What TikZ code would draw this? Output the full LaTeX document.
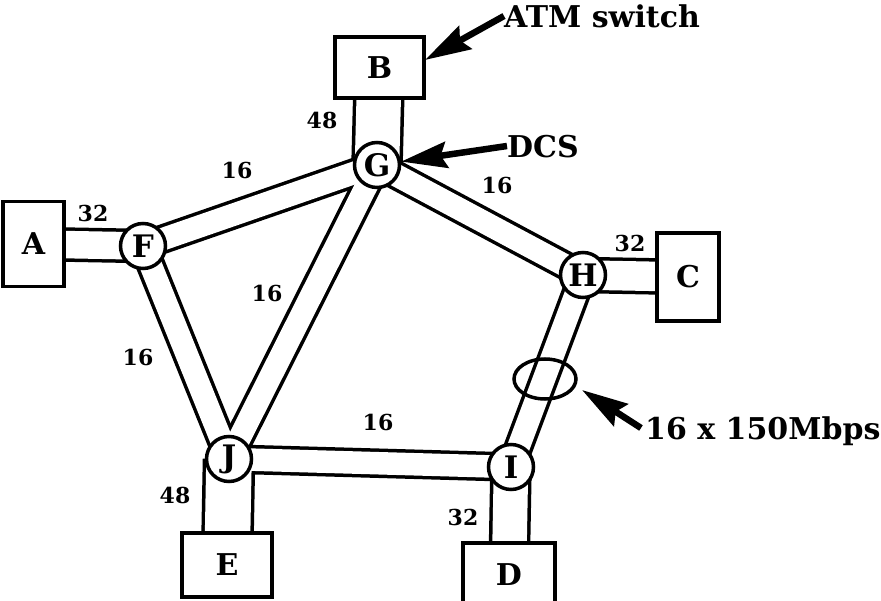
\documentclass[tikz,border=0pt]{standalone}
\usepackage{fontspec}
\setmainfont{DejaVu Serif}
\usetikzlibrary{arrows.meta,backgrounds,shapes.geometric}
\begin{document}
\begin{tikzpicture}[x=1pt,y=-1pt,
  switchbox/.style={draw, line width=3.5pt, fill=white, inner sep=0pt,
    font=\bfseries\fontsize{30}{30}\selectfont},
  crossconn/.style={circle, draw, line width=3.5pt, fill=white, minimum size=45pt,
    inner sep=0pt, font=\bfseries\fontsize{31}{31}\selectfont},
  num/.style={inner sep=0pt, font=\bfseries\fontsize{22}{22}\selectfont},
  callout/.style={inner sep=0pt, anchor=west, text depth=0pt,
    font=\bfseries\fontsize{30}{30}\selectfont},
  pointer/.style={line width=6.5pt, -{Stealth[length=46pt,width=26pt,inset=6pt]}},
]
\useasboundingbox (0,0) rectangle (881,601);
\clip (0,0) rectangle (881,601);

% ATM switches
\node[switchbox, minimum width=61pt, minimum height=85pt] (A) at (33.5,244) {A};
\node[switchbox, minimum width=89pt, minimum height=61pt] (B) at (379.5,67.5) {B};
\node[switchbox, minimum width=62pt, minimum height=88pt] (C) at (688,277) {C};
\node[switchbox, minimum width=92pt, minimum height=63pt] (D) at (509,574.5) {D};
\node[switchbox, minimum width=90pt, minimum height=64pt] (E) at (227,565) {E};

% digital cross-connects
\node[crossconn] (F) at (143,246) {F};
\node[crossconn] (G) at (377,165) {G};
\node[crossconn] (H) at (583,275) {H};
\node[crossconn] (I) at (511,467) {I};
\node[crossconn] (J) at (229,459) {J};

% trunk bundles: outline pass, then hollow pass
\begin{pgfonlayer}{background}
  \foreach \p/\q/\s in {A/F/31, B/G/48, H/C/33, I/D/38, J/E/49,
                        F/G/26, G/H/26, F/J/26, G/J/26, J/I/26, H/I/26}
    \draw[line width={(\s+3.5)*1pt}] (\p.center) -- (\q.center);
  \foreach \p/\q/\s in {A/F/31, B/G/48, H/C/33, I/D/38, J/E/49,
                        F/G/26, G/H/26, F/J/26, G/J/26, J/I/26, H/I/26}
    \draw[white, line width={(\s-3.5)*1pt}] (\p.center) -- (\q.center);
\end{pgfonlayer}

% channel counts
\node[num] (nAF) at (93,213) {32};
\node[num] (nBG) at (322,120) {48};
\node[num] (nFG) at (237,170) {16};
\node[num] (nGH) at (497,185) {16};
\node[num] (nHC) at (630,243) {32};
\node[num] (nGJ) at (267,293) {16};
\node[num] (nFJ) at (138,357) {16};
\node[num] (nJI) at (378,422) {16};
\node[num] (nJE) at (175,495) {48};
\node[num] (nID) at (463,517) {32};

% bundle marker
\node[draw, ellipse, line width=3.5pt, minimum width=62pt, minimum height=40pt] (bundle) at (545,379) {};

% callouts
\node[callout] (atm) at (504,16) {ATM switch};
\node[callout] (dcs) at (507,146) {DCS};
\node[callout] (rate) at (645,428) {16 x 150Mbps};
\coordinate (btip) at (425,60);
\coordinate (rtip) at (582,390);
\draw[pointer] (atm.west) -- (btip);
\draw[pointer] (dcs.west) -- (G.8);
\draw[pointer] ([xshift=-4pt]rate.west) -- (rtip);
\end{tikzpicture}
\end{document}
